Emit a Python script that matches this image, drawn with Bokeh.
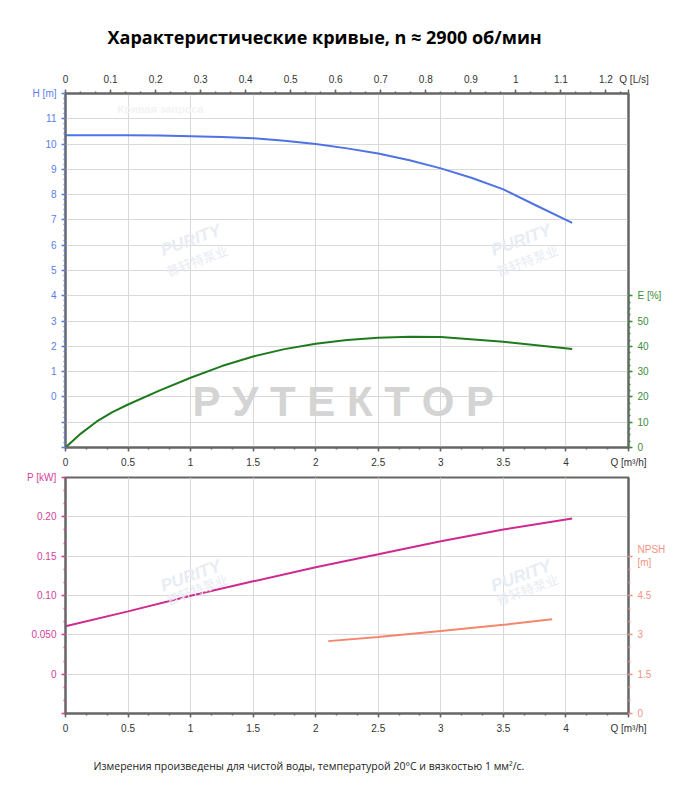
from bokeh.plotting import figure
from bokeh.models import Range1d, LinearAxis, FixedTicker, Label, Title
from bokeh.layouts import column
from bokeh.embed import file_html
from bokeh.resources import INLINE

# ---------------- data ----------------
q_head = [0.0, 0.5, 0.75, 1.0, 1.25, 1.5, 1.75, 2.0, 2.25, 2.5, 2.75, 3.0, 3.25, 3.5, 3.75, 4.05]
head = [10.35, 10.35, 10.34, 10.31, 10.28, 10.23, 10.13, 10.0, 9.83, 9.63, 9.36, 9.04, 8.66, 8.21,
        7.60, 6.88]

q_eff = [0.0, 0.125, 0.25, 0.375, 0.5, 0.75, 1.0, 1.25, 1.5, 1.75, 2.0, 2.25, 2.5, 2.75, 3.0, 3.5, 4.05]
eff = [0.0, 5.6, 10.3, 14.0, 17.0, 22.5, 27.6, 32.2, 36.0, 38.9, 41.0, 42.5, 43.4, 43.8, 43.7, 41.8, 39.0]

q_pow = [0.0, 0.5, 1.0, 1.5, 2.0, 2.5, 3.0, 3.5, 4.05]
power = [0.061, 0.0798, 0.0997, 0.118, 0.136, 0.1524, 0.169, 0.1839, 0.198]

q_npsh = [2.1, 2.5, 3.0, 3.5, 3.89]
npsh = [2.76, 2.92, 3.15, 3.38, 3.59]

q_ticks = [0.0, 0.5, 1.0, 1.5, 2.0, 2.5, 3.0, 3.5, 4.0, 4.5]
q_labels = ["0", "0.5", "1", "1.5", "2", "2.5", "3", "3.5", "4", "Q [m³/h]"]
ls_ticks = [0.0, 0.1, 0.2, 0.3, 0.4, 0.5, 0.6, 0.7, 0.8, 0.9, 1.0, 1.1, 1.2, 1.25]
ls_labels = ["0", "0.1", "0.2", "0.3", "0.4", "0.5", "0.6", "0.7", "0.8", "0.9", "1", "1.1", "1.2",
             "\u00a0\u00a0\u00a0\u00a0Q [L/s]"]
h_ticks = [-2, -1, 0, 1, 2, 3, 4, 5, 6, 7, 8, 9, 10, 11, 12]
h_labels = ["", "", "0", "1", "2", "3", "4", "5", "6", "7", "8", "9", "10", "11", "H [m]"]
e_ticks = [0, 10, 20, 30, 40, 50, 60]
e_labels = ["0", "10", "20", "30", "40", "50", "E [%]"]
p_ticks = [-0.05, 0.0, 0.05, 0.1, 0.15, 0.2, 0.25]
p_labels = ["", "0", "0.050", "0.10", "0.15", "0.20", "P [kW]"]
n_ticks = [0.0, 1.5, 3.0, 4.5, 6.0]
n_labels = ["0", "1.5", "3", "4.5", "NPSH\n[m]"]

TITLE = "Характеристические кривые, n ≈ 2900 об/мин"
FOOT = "Измерения произведены для чистой воды, температурой 20°C и вязкостью 1 мм²/с."

C_H = "#4f73e3"
C_HL = "#5b7ee8"
C_E = "#1f7a1f"
C_EL = "#3a8c3a"
C_P = "#cf2a8f"
C_PL = "#d6409c"
C_N = "#f4866f"
C_NL = "#f59383"
AX = "#666666"
GRID = "#d9d9d9"
FONT = "Liberation Sans"


def minor(ticks, n, lo, hi):
    step = (ticks[1] - ticks[0]) / n
    out = []
    k = 0
    while lo + k * step <= hi + 1e-9:
        out.append(round(lo + k * step, 6))
        k += 1
    return out


def style(ax, ticks, labels, lab_color, tick_color, nminor, lo, hi):
    ax.ticker = FixedTicker(ticks=ticks, minor_ticks=minor(ticks, nminor, lo, hi))
    ax.major_label_overrides = {t: l for t, l in zip(ticks, labels)}
    ax.major_label_text_font = FONT
    ax.major_label_text_font_size = "10px"
    ax.major_label_text_color = lab_color
    ax.major_tick_out = 4
    ax.major_tick_in = 0
    ax.minor_tick_out = 2
    ax.minor_tick_in = 0
    ax.major_tick_line_color = tick_color
    ax.minor_tick_line_color = tick_color
    ax.major_tick_line_width = 1.5
    ax.minor_tick_line_width = 1.5
    ax.axis_line_color = AX
    ax.axis_line_width = 2
    ax.major_label_standoff = 5


# ---------------- top chart ----------------
p1 = figure(frame_width=563, frame_height=354, min_border_left=65, min_border_right=55,
            min_border_top=93, min_border_bottom=22,
            x_range=Range1d(0, 4.5), y_range=Range1d(-2, 12),
            output_backend="svg", toolbar_location=None)
p1.extra_y_ranges = {"E": Range1d(0, 140)}
p1.extra_x_ranges = {"ls": Range1d(0, 1.25)}
p1.outline_line_color = AX
p1.outline_line_width = 2

style(p1.xaxis[0], q_ticks, q_labels, "#333333", AX, 3, 0, 4.5)
style(p1.yaxis[0], h_ticks, h_labels, C_HL, C_HL, 5, -2, 12)
top_ax = LinearAxis(x_range_name="ls")
style(top_ax, ls_ticks, ls_labels, "#333333", AX, 3, 0, 1.25)
p1.add_layout(top_ax, "above")
e_ax = LinearAxis(y_range_name="E")
style(e_ax, e_ticks, e_labels, C_EL, C_EL, 4, 0, 60)
p1.add_layout(e_ax, "right")

p1.xgrid.ticker = FixedTicker(ticks=q_ticks)
p1.ygrid.ticker = FixedTicker(ticks=h_ticks)
p1.xgrid.grid_line_color = GRID
p1.ygrid.grid_line_color = GRID

p1.title.text = TITLE
p1.title.align = "left"
p1.title.offset = 42
p1.title.text_font = "Open Sans"
p1.title.text_font_style = "bold"
p1.title.text_font_size = "18px"
p1.title.text_color = "#000000"
p1.title.standoff = 43

# watermarks
p1.add_layout(Label(x=0.76, y=11.4, text="Кривая запроса", text_font=FONT, text_font_size="11px",
                    text_font_style="bold", text_color="#f3f3f3", text_align="center",
                    text_baseline="middle"))
p1.add_layout(Label(x=2.22, y=-0.2, text="Р У Т Е К Т О Р", text_font=FONT, text_font_size="42px",
                    text_font_style="bold", text_color="#d4d4d4", text_align="center",
                    text_baseline="middle"))
for wx in (1.0, 3.64):
    p1.add_layout(Label(x=wx, y=6.2, text="PURITY", text_font=FONT, text_font_size="17px",
                        text_font_style="bold italic", text_color="#e8ecf3", angle=0.35,
                        text_align="center", text_baseline="middle"))
    p1.add_layout(Label(x=wx + 0.05, y=5.4, text="普轩特泵业", text_font="Noto Sans CJK SC",
                        text_font_size="13px", text_color="#e8ecf3", angle=0.35,
                        text_align="center", text_baseline="middle"))

p1.line(q_head, head, line_color=C_H, line_width=2)
p1.line(q_eff, eff, y_range_name="E", line_color=C_E, line_width=2)

# ---------------- bottom chart ----------------
p2 = figure(frame_width=563, frame_height=236, min_border_left=65, min_border_right=55,
            min_border_top=7, min_border_bottom=80,
            x_range=Range1d(0, 4.5), y_range=Range1d(-0.05, 0.25),
            output_backend="svg", toolbar_location=None)
p2.extra_y_ranges = {"N": Range1d(0, 9)}
p2.outline_line_color = AX
p2.outline_line_width = 2

style(p2.xaxis[0], q_ticks, q_labels, "#333333", AX, 3, 0, 4.5)
style(p2.yaxis[0], p_ticks, p_labels, C_PL, C_PL, 3, -0.05, 0.25)
n_ax = LinearAxis(y_range_name="N")
style(n_ax, n_ticks, n_labels, C_NL, C_NL, 3, 0, 6)
p2.add_layout(n_ax, "right")

p2.xgrid.ticker = FixedTicker(ticks=q_ticks)
p2.ygrid.ticker = FixedTicker(ticks=p_ticks)
p2.xgrid.grid_line_color = GRID
p2.ygrid.grid_line_color = GRID

for wx in (1.0, 3.64):
    p2.add_layout(Label(x=wx, y=0.125, text="PURITY", text_font=FONT, text_font_size="17px",
                        text_font_style="bold italic", text_color="#e8ecf3", angle=0.35,
                        text_align="center", text_baseline="middle"))
    p2.add_layout(Label(x=wx + 0.05, y=0.108, text="普轩特泵业", text_font="Noto Sans CJK SC",
                        text_font_size="13px", text_color="#e8ecf3", angle=0.35,
                        text_align="center", text_baseline="middle"))

p2.line(q_pow, power, line_color=C_P, line_width=2)
p2.line(q_npsh, npsh, y_range_name="N", line_color=C_N, line_width=2)

p2.add_layout(Title(text=FOOT, align="left", offset=28, text_font="Open Sans",
                    text_font_size="10.5px", text_font_style="normal", text_color="#222222",
                    standoff=41), "below")

layout = column(p1, p2, spacing=0)
open("out.html", "w").write(file_html(layout, INLINE))
